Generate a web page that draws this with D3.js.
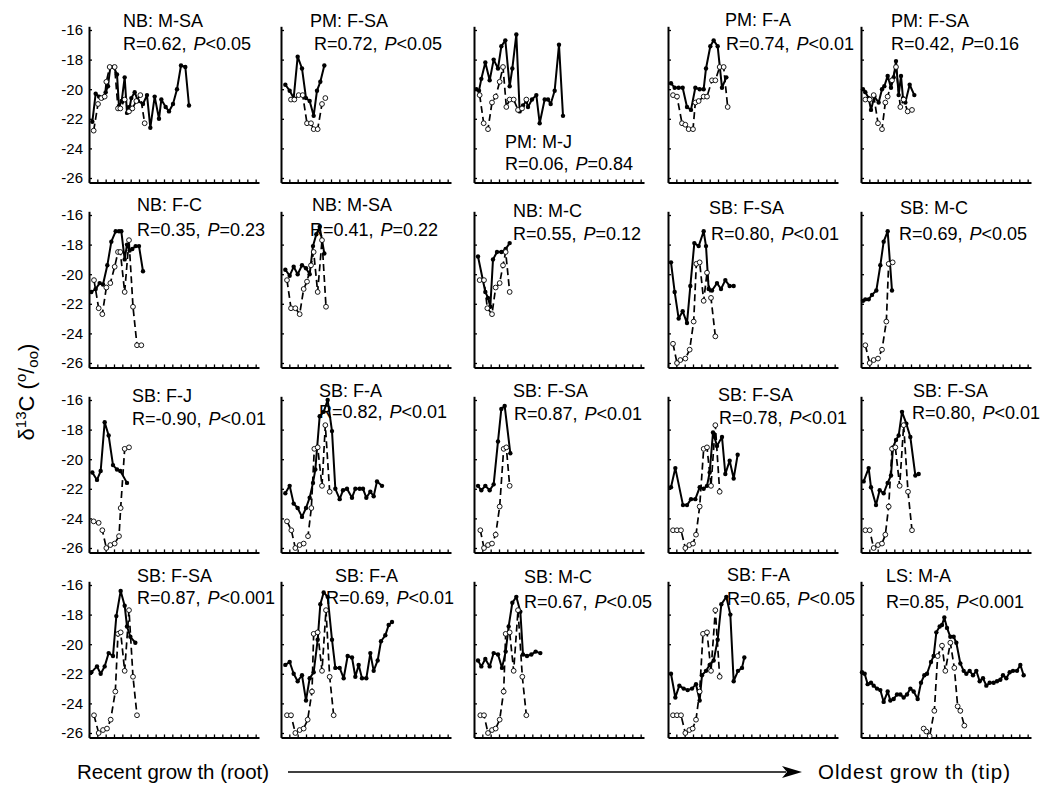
<!DOCTYPE html>
<html>
<head>
<meta charset="utf-8">
<script src="https://cdn.jsdelivr.net/npm/d3@7"></script>
<style>
  body { margin: 0; background: #fff; }
  svg { display: block; }
  text { font-family: "Liberation Sans", Arial, sans-serif; fill: #000; }
</style>
</head>
<body>
<svg id="chart" width="1042" height="785"></svg>
<script>
// ---- panel annotations (row by row) ----
const siteLabels = ["NB: M-SA", "PM: F-SA", "PM: M-J", "PM: F-A", "PM: F-SA",
                    "NB: F-C", "NB: M-SA", "NB: M-C", "SB: F-SA", "SB: M-C",
                    "SB: F-J", "SB: F-A", "SB: F-SA", "SB: F-SA", "SB: F-SA",
                    "SB: F-SA", "SB: F-A", "SB: M-C", "SB: F-A", "LS: M-A"];
const rValues = ["0.62", "0.72", "0.06", "0.74", "0.42",
                 "0.35", "0.41", "0.55", "0.80", "0.69",
                 "-0.90", "0.82", "0.87", "0.78", "0.80",
                 "0.87", "0.69", "0.67", "0.65", "0.85"];
const pSigns = ["<", "<", "=", "<", "=",
                "=", "=", "=", "<", "<",
                "<", "<", "<", "<", "<",
                "<", "<", "<", "<", "<"];
const pValues = ["0.05", "0.05", "0.84", "0.01", "0.16",
                 "0.23", "0.22", "0.12", "0.01", "0.05",
                 "0.01", "0.01", "0.01", "0.01", "0.01",
                 "0.001", "0.01", "0.05", "0.05", "0.001"];

const yTicks = [-16, -18, -20, -22, -24, -26];

// ---- series: [position along growth, d13C] ----
const solidA = [[1,-22.2],[2,-20.3],[3,-20.5],[4,-20.6],[5,-20.2],[5.7,-19.8],[6.4,-18.5],[7.4,-18.5],[8.4,-19.0],[9,-21.2],[9.8,-20.8],[10.7,-19.2],[11.4,-21.6],[12.2,-21.2],[12.7,-20.6],[13.7,-20.2],[14.7,-20.8],[16.2,-21.0],[17.4,-20.4],[18.4,-22.6],[19.7,-20.5],[21,-22.0],[21.7,-20.7],[23,-21.2],[24,-21.5],[25.2,-21.0],[26.4,-20.0],[27.6,-18.4],[28.9,-18.5],[30,-21.1]];
const openA = [[1.4,-22.8],[2.7,-21.0],[3.7,-20.6],[4.7,-20.5],[5.2,-19.5],[6.2,-18.5],[7.7,-18.5],[8.7,-21.3],[9.4,-21.3],[10.7,-20.7],[12,-21.5],[13,-21.3],[14.2,-20.8],[15.4,-20.4],[16.7,-22.3]];

const solidB = [[1.3,-19.7],[2.6,-20.1],[3.8,-20.6],[5,-17.8],[6.3,-18.6],[7.5,-20.6],[8.6,-20.8],[9.8,-21.8],[10.8,-20.1],[11.8,-19.5],[13,-18.4]];
const openB = [[3,-20.7],[4,-20.7],[5.3,-20.4],[6.5,-20.4],[7.8,-22.3],[9,-22.3],[9.8,-22.7],[11,-22.7],[12.3,-21.0],[13.3,-20.6]];

const solidC = [[0.7,-20.0],[1.5,-20.1],[2.2,-19.3],[3.4,-18.2],[4.7,-19.4],[5.9,-18.0],[7.2,-18.6],[8.2,-17.1],[9.4,-16.7],[10.7,-19.8],[11.5,-18.6],[12.7,-16.3],[13.7,-21.5],[14.7,-21.1],[15.7,-20.8],[16.2,-21.2],[17.4,-20.7],[18.7,-20.4],[19.7,-22.3],[21.2,-20.7],[22.2,-20.7],[23,-21.0],[24.2,-20.1],[25.5,-17.0],[26.7,-21.8]];
const openC = [[1.7,-20.4],[2.9,-22.3],[4.2,-22.7],[5.4,-20.9],[6.5,-20.5],[7.7,-19.5],[8.7,-18.5],[9.7,-21.2],[10.7,-20.7],[11.9,-20.7],[13.2,-21.4],[14.4,-21.3],[15.7,-20.7]];

const solidD = [[0.9,-19.6],[2,-19.9],[3.2,-19.9],[4.4,-19.9],[5.7,-21.2],[6.9,-21.4],[8.2,-19.9],[9.5,-20.0],[10.7,-20.0],[11.4,-18.6],[12.7,-17.1],[13.7,-16.7],[14.9,-17.1],[16.2,-19.9],[17.5,-19.2]];
const openD = [[1.5,-20.4],[2.7,-20.5],[4.2,-22.3],[5.2,-22.4],[6.2,-22.7],[7.5,-22.7],[8.2,-20.9],[9.2,-20.8],[10.7,-20.5],[11.7,-20.5],[13.2,-19.4],[14.2,-19.4],[15.5,-18.5],[16.7,-18.5],[17.9,-21.2]];

const solidE = [[0.6,-20.0],[1.3,-20.2],[2.3,-20.6],[3,-21.4],[4,-20.5],[5.3,-20.9],[6.3,-20.0],[7,-19.8],[8,-19.1],[9,-19.9],[9.8,-19.2],[10.5,-18.1],[11.3,-20.4],[12,-19.1],[12.6,-20.6],[13.3,-20.9],[14.6,-19.7],[16,-20.4]];
const openE = [[1.3,-20.7],[2.6,-20.7],[3.8,-20.4],[5.1,-22.3],[6.3,-22.7],[7.3,-20.9],[8,-20.5],[9.3,-19.4],[10.5,-18.5],[11.8,-21.2],[12.8,-20.7],[14,-21.5],[15.3,-21.4]];

const solidF = [[0.7,-21.2],[2,-21.0],[3.2,-20.6],[4.2,-20.7],[5.5,-19.4],[6.7,-17.8],[8,-17.1],[9,-17.1],[9.7,-17.1],[10.7,-19.0],[11.4,-18.0],[12.2,-18.4],[13,-18.3],[14,-18.1],[15,-18.1],[16.2,-19.8]];
const openF = [[1.5,-20.4],[2.9,-22.3],[4,-22.7],[5.2,-20.9],[6.4,-20.6],[7.7,-19.5],[8.7,-18.5],[9.4,-18.5],[10.7,-21.2],[12,-17.7],[13.2,-22.2],[14.4,-24.8],[15.7,-24.8]];

const solidG = [[1.3,-19.7],[2.6,-20.1],[3.8,-19.5],[5,-20.0],[6.3,-19.4],[7.5,-19.6],[8.6,-20.0],[9.6,-18.1],[10.6,-17.3],[11.6,-16.8],[13,-18.6]];
const openG = [[1.8,-20.4],[3,-22.3],[4.3,-22.3],[5.6,-22.7],[6.8,-21.0],[7.8,-20.5],[9,-19.4],[9.8,-18.5],[11,-21.2],[12.3,-17.7],[13.5,-22.2]];

const solidH = [[1.2,-18.8],[3.4,-21.2],[4.2,-21.6],[4.9,-22.2],[5.7,-19.0],[6.9,-18.5],[8.2,-18.5],[9.5,-18.3],[10.7,-17.9]];
const openH = [[1.7,-20.4],[3,-20.4],[4,-22.3],[5.4,-22.7],[6.5,-20.9],[7.7,-20.6],[8.7,-19.4],[9.5,-18.5],[10.7,-21.2]];

const solidI = [[0.9,-19.2],[2,-21.2],[3.2,-23.0],[4.4,-22.5],[5.7,-23.3],[6.7,-20.8],[7.9,-17.9],[9.2,-18.1],[10.7,-17.1],[11.4,-18.1],[12.2,-21.0],[13.2,-21.1],[14.7,-20.6],[15.9,-21.0],[17.2,-20.4],[18.5,-20.8],[19.7,-20.8]];
const openI = [[1.5,-24.7],[2.7,-26.0],[3.7,-25.8],[5.2,-25.7],[6.5,-25.1],[7.7,-23.2],[8.5,-19.3],[9.5,-19.2],[10.7,-21.8],[11.7,-19.9],[12.9,-21.6],[14.2,-24.2]];

const solidJ = [[0.6,-21.8],[1.3,-21.7],[2.3,-21.7],[3.3,-21.4],[4.6,-21.1],[5.8,-19.4],[6.8,-17.8],[8,-17.1],[9.3,-21.1]];
const openJ = [[1.3,-24.8],[2.6,-26.0],[3.8,-25.8],[5.1,-25.7],[6.3,-25.1],[7.6,-23.2],[8.3,-19.3],[9.5,-19.2]];

const solidK = [[1,-20.9],[2.4,-21.4],[3.5,-20.8],[4.7,-17.5],[5.9,-18.4],[7.2,-20.4],[8.4,-20.7],[9.4,-20.8],[11.4,-21.6]];
const openK = [[1.4,-24.2],[2.9,-24.3],[4,-24.8],[5.2,-26.0],[6.4,-25.8],[7.7,-25.7],[9,-25.2],[9.5,-23.3],[10.7,-19.3],[12,-19.2]];

const solidL = [[1.3,-22.3],[2.6,-21.8],[3.8,-23.0],[5,-23.3],[6.3,-23.9],[7.5,-23.3],[8.6,-22.6],[9.6,-21.6],[10.3,-20.7],[11.6,-17.1],[12.8,-16.8],[14,-16.0],[15.3,-18.1],[16.3,-22.0],[17.6,-22.7],[18.6,-22.1],[19.8,-22.0],[21.3,-22.6],[22.3,-22.0],[23.6,-22.0],[24.6,-22.0],[25.6,-22.6],[26.8,-22.2],[27.8,-22.5],[28.8,-21.5],[30.3,-21.8]];
const openL = [[1.8,-24.2],[3.1,-24.8],[4.3,-26.0],[5.6,-25.8],[6.8,-25.7],[8.1,-25.2],[9.1,-23.3],[10,-19.3],[11,-19.2],[12.3,-21.8],[13.3,-17.7],[14.6,-22.2]];

const solidM = [[1.2,-21.8],[2.2,-22.1],[3.4,-21.8],[4.7,-22.1],[5.9,-21.7],[7.2,-18.8],[8.2,-16.6],[9.2,-16.4],[10.9,-19.6]];
const openM = [[1.9,-24.8],[3,-26.0],[4.2,-25.8],[5.4,-25.7],[6.5,-25.1],[7.7,-23.2],[8.9,-19.3],[9.7,-19.2],[10.7,-21.8]];

const solidN = [[0.9,-21.9],[2.2,-20.6],[4.5,-23.1],[5.7,-23.1],[6.9,-22.7],[8.2,-22.7],[9.5,-21.9],[10.7,-22.0],[11.7,-21.8],[12.5,-20.9],[13.5,-18.2],[14.7,-19.1],[16.2,-18.5],[17.2,-21.0],[18.5,-20.1],[19.7,-21.3],[20.9,-19.7]];
const openN = [[1.5,-24.8],[2.7,-24.8],[3.9,-24.8],[5.2,-26.0],[6.4,-25.8],[7.5,-25.7],[8.4,-25.1],[9.5,-23.2],[10.7,-19.3],[11.7,-19.2],[12.9,-21.8],[14.2,-17.7],[15.5,-22.2]];

const solidO = [[0.8,-21.5],[2.3,-20.6],[3,-21.9],[4.5,-23.1],[5.6,-22.1],[6.8,-22.3],[8,-21.6],[9,-21.1],[9.6,-19.2],[10.5,-18.7],[11.3,-18.4],[12.3,-16.8],[13.6,-17.6],[14.8,-18.5],[16.3,-21.1],[17.3,-21.0]];
const openO = [[1.3,-24.8],[2.6,-24.8],[3.8,-26.0],[5.1,-25.8],[6.3,-25.7],[7.3,-25.1],[8.3,-23.2],[9.3,-19.3],[10.3,-19.2],[11.6,-21.8],[12.8,-17.7],[14.1,-22.2],[15.3,-24.8]];

const solidP = [[0.7,-21.9],[2.4,-21.5],[3.5,-22.0],[4.7,-21.5],[5.9,-20.6],[7.2,-20.8],[8.2,-18.1],[9.5,-16.4],[10.7,-17.4],[11.4,-18.8],[12.4,-19.5],[13.9,-19.9]];
const openP = [[1.5,-24.8],[2.9,-26.0],[4.2,-25.8],[5.4,-25.7],[6.5,-25.1],[7.9,-23.2],[8.7,-19.3],[9.5,-19.2],[10.7,-21.8],[12,-17.7],[13.2,-22.2],[14.4,-24.8]];

const solidQ = [[1.3,-21.4],[2.6,-21.2],[3.8,-22.0],[5,-22.5],[6.3,-22.1],[7.5,-23.8],[8.6,-22.3],[9.8,-21.9],[11,-19.7],[11.8,-17.3],[12.8,-16.5],[14,-16.8],[15.3,-19.7],[16.3,-21.6],[17.6,-21.6],[18.8,-22.3],[20,-20.8],[21.3,-20.9],[22.3,-22.2],[23.3,-21.4],[24.3,-22.3],[25.6,-22.3],[26.8,-20.6],[27.8,-21.8],[29,-21.1],[30,-19.8],[31.3,-19.4],[32.3,-18.7],[33.3,-18.5]];
const openQ = [[1.8,-24.8],[3,-24.8],[4.3,-26.0],[5.6,-25.8],[6.8,-25.7],[8,-25.1],[9.3,-23.2],[9.8,-19.3],[11,-19.2],[12.3,-21.8],[13.5,-17.7],[14.6,-22.2],[15.8,-24.8]];

const solidR = [[1.2,-21.1],[2.2,-21.5],[3.4,-21.0],[4.7,-21.5],[5.9,-20.6],[7.2,-20.7],[8.4,-21.6],[9.5,-20.5],[10.4,-18.8],[11.5,-17.2],[12.7,-16.8],[13.9,-17.8],[14.7,-20.7],[15.9,-20.8],[17.2,-20.7],[18.5,-20.5],[19.9,-20.6]];
const openR = [[1.9,-24.8],[3,-24.8],[4.2,-26.0],[5.4,-25.8],[6.5,-25.7],[7.7,-25.1],[8.9,-23.2],[9.5,-19.3],[10.7,-19.2],[11.9,-21.8],[13.2,-17.7],[14.5,-22.2],[15.7,-24.8]];

const solidS = [[0.9,-22.0],[2.2,-23.6],[3.4,-22.8],[4.7,-23.0],[5.9,-23.1],[7.2,-23.0],[8.4,-22.7],[9.5,-23.8],[10.2,-22.1],[11.4,-21.8],[12.5,-21.4],[13.7,-21.1],[14.9,-19.7],[16,-17.3],[17.5,-16.8],[18.7,-18.0],[19.7,-22.5],[21,-21.8],[22.2,-21.6],[22.9,-20.9]];
const openS = [[1.5,-24.8],[2.7,-24.8],[3.9,-24.8],[5.2,-26.0],[6.4,-25.8],[7.4,-25.7],[8.4,-25.1],[9.5,-23.2],[10.5,-19.3],[11.7,-19.2],[12.9,-21.8],[14.2,-17.7],[15.5,-22.2]];

const solidT = [[0.3,-21.9],[1.1,-22.0],[2,-22.7],[3,-22.6],[3.8,-22.8],[4.8,-23.0],[5.8,-23.1],[6.8,-23.9],[8,-23.2],[8.8,-23.8],[9.8,-23.7],[10.8,-23.4],[11.8,-23.4],[12.8,-23.6],[13.8,-23.4],[14.8,-23.0],[15.8,-23.2],[17,-23.7],[18,-22.6],[19,-22.1],[19.8,-22.0],[21,-21.2],[21.8,-20.8],[22.6,-19.2],[23.6,-18.8],[24.3,-18.7],[25,-18.2],[25.8,-18.9],[26.8,-19.5],[27.8,-19.5],[28.6,-19.9],[29.8,-21.3],[30.8,-21.8],[31.6,-22.0],[32.6,-21.8],[33.6,-22.1],[34.6,-21.8],[35.6,-22.5],[36.6,-22.3],[37.6,-22.8],[38.6,-22.6],[39.8,-22.6],[40.8,-22.5],[41.8,-22.4],[42.6,-22.1],[43.6,-22.3],[44.6,-21.9],[45.6,-21.8],[46.8,-21.8],[47.8,-21.4],[48.8,-22.1]];
const openT = [[18.8,-25.7],[19.6,-25.9],[20.6,-26.2],[22,-24.5],[23,-20.8],[24.3,-20.1],[25.3,-21.8],[26.8,-19.9],[28,-21.6],[29,-24.2],[29.8,-24.5],[31,-25.5]];

const solidSeries = [solidA, solidB, solidC, solidD, solidE, solidF, solidG, solidH, solidI, solidJ,
                     solidK, solidL, solidM, solidN, solidO, solidP, solidQ, solidR, solidS, solidT];
const openSeries = [openA, openB, openC, openD, openE, openF, openG, openH, openI, openJ,
                    openK, openL, openM, openN, openO, openP, openQ, openR, openS, openT];

// ---- layout ----
const colX = [89, 281, 474, 668, 861];      // y-axis position of each column
const rowTop = [30, 215, 400, 585];          // pixel row of the -16 tick in each row
const plotW = 170;
const unitPx = 14.8;                          // pixels per permil
// annotation offsets [titleDx, titleDy, statDx, statDy] relative to (axis x, -16 tick)
const labelPos = [
  [34,-3,34,20], [29,-3,33,20], [31,118,31,140], [57,-4,58,20], [30,-3,30,20],
  [48,-4,48,21], [31,-4,29,21], [39,2,39,25], [41,-1,43,25], [39,-1,38,25],
  [43,2,43,25], [38,-3,38,18], [39,-3,40,20], [50,1,51,24], [52,-3,51,19],
  [48,-3,48,19], [54,-3,45,19], [50,-2,50,23], [59,-4,59,20], [25,-3,25,23]
];

const svg = d3.select("#chart");

solidSeries.forEach((solid, i) => {
  const r = Math.floor(i / 5), c = i % 5;
  const x0 = colX[c], y16 = rowTop[r];
  const x = d3.scaleLinear().domain([0, 51]).range([x0, x0 + plotW]);
  const y = d3.scaleLinear().domain([-26.3, -15.75])
    .range([y16 + 10.3 * unitPx, y16 - 0.25 * unitPx]);
  const g = svg.append("g");

  // axes
  const yAxis = d3.axisLeft(y).tickValues(yTicks).tickSizeInner(-3).tickSizeOuter(0)
    .tickPadding(6).tickFormat(c === 0 ? (d => String(d)) : (() => ""));
  const ya = g.append("g").attr("transform", `translate(${x0},0)`).call(yAxis);
  const xAxis = d3.axisBottom(x).tickValues(d3.range(0, 51, 2.5)).tickSizeInner(-3)
    .tickSizeOuter(0).tickFormat(() => "");
  const xa = g.append("g").attr("transform", `translate(0,${y(-26.3)})`).call(xAxis);
  [ya, xa].forEach(a => {
    a.select(".domain").attr("stroke", "#000").attr("stroke-width", 2);
    a.selectAll(".tick line").attr("stroke", "#000").attr("stroke-width", 1.3);
  });
  ya.selectAll(".tick text").style("font-size", "15px")
    .style("font-family", '"Liberation Sans", Arial, sans-serif').attr("fill", "#000");

  const line = d3.line().x(d => x(d[0])).y(d => y(d[1]));

  // solid series with filled markers
  g.append("path").datum(solid).attr("d", line)
    .attr("fill", "none").attr("stroke", "#000").attr("stroke-width", 2)
    .attr("stroke-linejoin", "round");
  g.selectAll("circle.f").data(solid).join("circle").attr("class", "f")
    .attr("cx", d => x(d[0])).attr("cy", d => y(d[1])).attr("r", 2.2).attr("fill", "#000");

  // dashed series with open markers
  const open = openSeries[i];
  g.append("path").datum(open).attr("d", line)
    .attr("fill", "none").attr("stroke", "#000").attr("stroke-width", 1.7)
    .attr("stroke-dasharray", "7,4");
  g.selectAll("circle.o").data(open).join("circle").attr("class", "o")
    .attr("cx", d => x(d[0])).attr("cy", d => y(d[1])).attr("r", 2.4)
    .attr("fill", "#fff").attr("stroke", "#000").attr("stroke-width", 0.9);

  // annotations
  const lp = labelPos[i];
  g.append("text").attr("x", x0 + lp[0]).attr("y", y16 + lp[1])
    .style("font-size", "18px").text(siteLabels[i]);
  const st = g.append("text").attr("x", x0 + lp[2]).attr("y", y16 + lp[3])
    .style("font-size", "18px");
  st.append("tspan").text(`R=${rValues[i]}, `);
  st.append("tspan").attr("dx", 2).style("font-style", "italic").text("P");
  st.append("tspan").text(`${pSigns[i]}${pValues[i]}`);
});

// y-axis title: delta 13C (per mil)
const yt = svg.append("text")
  .attr("transform", "translate(34,392) rotate(-90)")
  .attr("text-anchor", "middle").style("font-size", "22px");
yt.append("tspan").text("δ");
yt.append("tspan").attr("dy", -8).style("font-size", "15px").text("13");
yt.append("tspan").attr("dy", 8).text("C (");
yt.append("tspan").attr("dy", -8).style("font-size", "15px").text("o");
yt.append("tspan").attr("dy", 8).text("/");
yt.append("tspan").attr("dy", 4).style("font-size", "15px").text("oo");
yt.append("tspan").attr("dy", -4).text(")");

// growth direction
svg.append("text").attr("x", 77).attr("y", 779).style("font-size", "20.5px")
  .attr("textLength", 192).attr("lengthAdjust", "spacing").text("Recent grow th (root)");
svg.append("text").attr("x", 818).attr("y", 779).style("font-size", "20.5px")
  .attr("textLength", 192).attr("lengthAdjust", "spacing").text("Oldest grow th (tip)");
svg.append("line").attr("x1", 288).attr("x2", 786).attr("y1", 772).attr("y2", 772)
  .attr("stroke", "#000").attr("stroke-width", 1.5);
svg.append("path").attr("d", "M802,772 L782,766 L787,772 L782,778 Z").attr("fill", "#000");
</script>
</body>
</html>
